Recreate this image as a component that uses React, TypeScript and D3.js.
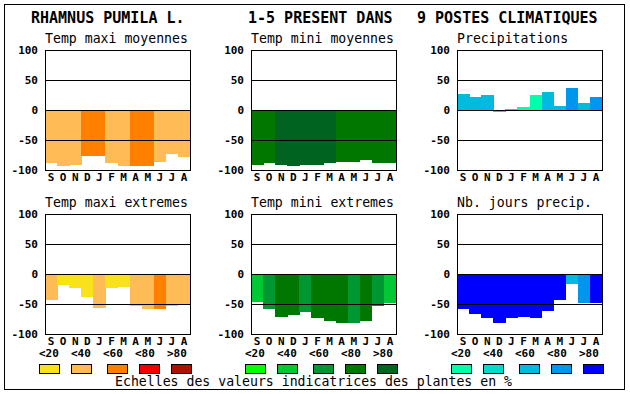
import React from "react";
import * as d3 from "d3";

const months = ["S", "O", "N", "D", "J", "F", "M", "A", "M", "J", "J", "A"];
const yTicks = [100, 50, 0, -50, -100];
const gridValues = [50, 0, -50];
const legendLabels = ["<20", "<40", "<60", "<80", ">80"];

const warmScale = ["#f9e21c", "#ffbb55", "#ff8000", "#ee0000", "#aa1100"];
const greenScale = ["#00ff00", "#00c832", "#009632", "#007800", "#006420"];
const blueScale = ["#00ffaa", "#00dccc", "#00bbdd", "#0096ee", "#0000ff"];

const maxiMoyValues = [-88, -93, -92, -76, -76, -88, -93, -94, -93, -86, -74, -78];
const maxiMoyClass = [1, 1, 1, 2, 2, 1, 1, 2, 2, 1, 1, 1];

const miniMoyValues = [-91, -88, -91, -93, -91, -91, -88, -86, -86, -83, -88, -88];
const miniMoyClass = [3, 3, 4, 4, 4, 4, 4, 3, 3, 3, 3, 3];

const precipValues = [27, 21, 25, -4, 2, 5, 25, 30, 7, 37, 12, 22];
const precipClass = [2, 2, 2, 1, 1, 0, 0, 2, 2, 3, 2, 3];

const maxiExtValues = [-43, -18, -23, -38, -56, -24, -21, -54, -58, -58, -54, -50];
const maxiExtClass = [1, 0, 0, 0, 1, 0, 0, 1, 1, 2, 1, 1];

const miniExtValues = [-46, -58, -71, -68, -63, -73, -78, -81, -81, -78, -53, -48];
const miniExtClass = [1, 2, 3, 3, 2, 3, 3, 3, 2, 3, 2, 1];

const joursValues = [-58, -66, -74, -81, -74, -71, -73, -61, -44, -16, -49, -48];
const joursClass = [4, 4, 4, 4, 4, 4, 4, 4, 4, 2, 3, 4];

const panels = [
  { title: "Temp maxi moyennes", values: maxiMoyValues, cls: maxiMoyClass, scale: warmScale, col: 0, row: 0 },
  { title: "Temp mini moyennes", values: miniMoyValues, cls: miniMoyClass, scale: greenScale, col: 1, row: 0 },
  { title: "Precipitations", values: precipValues, cls: precipClass, scale: blueScale, col: 2, row: 0 },
  { title: "Temp maxi extremes", values: maxiExtValues, cls: maxiExtClass, scale: warmScale, col: 0, row: 1 },
  { title: "Temp mini extremes", values: miniExtValues, cls: miniExtClass, scale: greenScale, col: 1, row: 1 },
  { title: "Nb. jours precip.", values: joursValues, cls: joursClass, scale: blueScale, col: 2, row: 1 },
];

const legendScales = [warmScale, greenScale, blueScale];

const colX = [45, 251, 457];
const rowY = [50, 214];
const PW = 145;
const PH = 120;
const mono = "'DejaVu Sans Mono', 'Liberation Mono', monospace";

function Panel({ p }: { p: (typeof panels)[number] }) {
  const x0 = colX[p.col];
  const y0 = rowY[p.row];
  const x = d3.scaleBand<number>().domain(d3.range(12)).range([x0, x0 + PW]).padding(0);
  const y = d3.scaleLinear().domain([-100, 100]).range([y0 + PH, y0]);
  return (
    <g>
      <text x={x0} y={y0 - 7} fontFamily={mono} fontSize={13.2} fill="#000">
        {p.title}
      </text>
      {p.values.map((v, i) => (
        <rect
          key={i}
          x={x(i)!}
          width={x.bandwidth() + 0.5}
          y={Math.min(y(v), y(0))}
          height={Math.abs(y(v) - y(0))}
          fill={p.scale[p.cls[i]]}
          shapeRendering="crispEdges"
        />
      ))}
      {gridValues.map((g) => (
        <line key={g} x1={x0} x2={x0 + PW} y1={y(g) + 0.5} y2={y(g) + 0.5} stroke="#000" strokeWidth={1} shapeRendering="crispEdges" />
      ))}
      <rect x={x0 + 0.5} y={y0 + 0.5} width={PW} height={PH} fill="none" stroke="#000" strokeWidth={1} shapeRendering="crispEdges" />
      {yTicks.map((t) => (
        <text key={t} x={x0 - 7} y={y(t) + 4} textAnchor="end" fontFamily={mono} fontWeight="bold" fontSize={11} fill="#000">
          {t}
        </text>
      ))}
      {months.map((m, i) => (
        <text key={i} x={x(i)! + x.bandwidth() / 2} y={y0 + PH + 11} textAnchor="middle" fontFamily={mono} fontWeight="bold" fontSize={11} fill="#000">
          {m}
        </text>
      ))}
    </g>
  );
}

const swatchOffsets = [0, 32, 68, 100, 132];
const labelOffsets = [0, 32, 64, 96, 128];

export default function App() {
  return (
    <svg width={630} height={394} style={{ position: "absolute", left: 0, top: 0, background: "#fff" }}>
      <rect x={0} y={0} width={630} height={394} fill="#fff" />
      <rect x={4.5} y={4.5} width={620} height={385} fill="none" stroke="#000" strokeWidth={1} />
      <text x={31} y={23} fontFamily={mono} fontWeight="bold" fontSize={15} fill="#000">RHAMNUS PUMILA L.</text>
      <text x={248} y={23} fontFamily={mono} fontWeight="bold" fontSize={15} fill="#000">1-5 PRESENT DANS</text>
      <text x={417} y={23} fontFamily={mono} fontWeight="bold" fontSize={15} fill="#000">9 POSTES CLIMATIQUES</text>
      {panels.map((p, i) => (
        <Panel key={i} p={p} />
      ))}
      {legendScales.map((sc, k) => {
        const lx = colX[k] - 6;
        return (
          <g key={k}>
            {legendLabels.map((l, i) => (
              <text key={l} x={lx + labelOffsets[i]} y={357} fontFamily={mono} fontWeight="bold" fontSize={11} fill="#000">
                {l}
              </text>
            ))}
            {sc.map((c, i) => (
              <rect key={i} x={lx + swatchOffsets[i] + 0.5} y={364.5} width={20} height={9} fill={c} stroke="#000" strokeWidth={1} />
            ))}
          </g>
        );
      })}
      <text x={115} y={386} fontFamily={mono} fontSize={13.2} fill="#000">
        Echelles des valeurs indicatrices des plantes en %
      </text>
    </svg>
  );
}
